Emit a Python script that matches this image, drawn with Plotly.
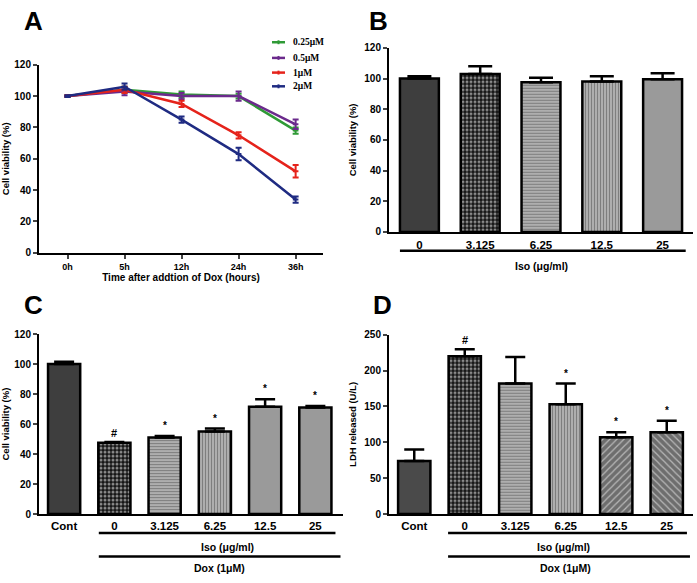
import plotly.graph_objects as go

# ---------------- data ----------------
time_labels = ["0h", "5h", "12h", "24h", "36h"]
conc_labels = ["0.25μM", "0.5μM", "1μM", "2μM"]
via_025 = [100, 104, 101, 100, 78]
err_025 = [0.5, 2, 2, 1.5, 2]
via_05 = [100, 103, 100, 100, 82]
err_05 = [0.5, 2.5, 2, 3, 3]
via_1 = [100, 104, 95, 75, 52]
err_1 = [0.5, 2, 2, 2, 4]
via_2 = [100, 106, 85, 63, 34]
err_2 = [0.5, 2, 2, 4, 2]

iso_b = ["0", "3.125", "6.25", "12.5", "25"]
via_b = [100, 103, 97.5, 98, 99.5]
err_b = [1.5, 5, 3, 3.5, 4]

groups_cd = ["Cont", "0", "3.125", "6.25", "12.5", "25"]
via_c = [100, 47.5, 51, 55, 71.5, 71]
err_c = [1.5, 0.5, 1, 2, 5, 1]
sig_c = ["", "#", "*", "*", "*", "*"]
ldh_d = [74, 220, 182, 153, 107, 114]
err_d = [16, 10, 37, 29, 7, 16]
sig_d = ["", "#", "", "*", "*", "*"]

line_colors = ["#2f9a36", "#6b2a8c", "#e5231b", "#1f2b82"]
series_a = [(via_025, err_025), (via_05, err_05), (via_1, err_1), (via_2, err_2)]

W, H = 697, 583
FONT = "Liberation Sans, Arial, sans-serif"
SERIF = "Liberation Serif, Times New Roman, serif"


def px_x(p):
    return p / W


def px_y(p):
    return 1 - p / H


fig = go.Figure()

# ---------------- panel A ----------------
for name, (v, e), c in zip(conc_labels, series_a, line_colors):
    fig.add_trace(go.Scatter(
        x=time_labels, y=v, name=name, mode="lines+markers", showlegend=False,
        line=dict(color=c, width=2.5),
        marker=dict(color=c, size=4, symbol="line-ew-open", line=dict(width=2, color=c)),
        error_y=dict(type="data", array=e, visible=True, color=c, thickness=2, width=3),
        xaxis="x", yaxis="y"))

# bar styles (fill colour + overlay pattern)
solid_dark = dict(color="#3e3e3e", shape="", fg="#3e3e3e", size=4, sol=0.3)
solid_dark_d = dict(color="#4a4a4a", shape="", fg="#4a4a4a", size=4, sol=0.3)
dots = dict(color="#151515", shape=".", fg="#ffffff", size=4, sol=0.45)
hlines = dict(color="#b8b8b8", shape="-", fg="#505050", size=3, sol=0.45)
vlines = dict(color="#b8b8b8", shape="|", fg="#505050", size=3, sol=0.45)
solid_gray = dict(color="#9a9a9a", shape="", fg="#9a9a9a", size=4, sol=0.3)
diag1 = dict(color="#6e6e6e", shape="/", fg="#a8a8a8", size=5, sol=0.25)
diag2 = dict(color="#6e6e6e", shape="\\", fg="#a8a8a8", size=5, sol=0.25)


def bar_trace(cats, vals, errs, styles, ax, ay, capw):
    return go.Bar(
        x=cats, y=vals, width=0.64, showlegend=False,
        marker=dict(
            color=[s["color"] for s in styles],
            line=dict(color="black", width=2.5),
            pattern=dict(
                shape=[s["shape"] for s in styles],
                fgcolor=[s["fg"] for s in styles],
                size=[s["size"] for s in styles],
                solidity=[s["sol"] for s in styles],
                fillmode="overlay")),
        error_y=dict(type="data", array=errs, arrayminus=[0] * len(errs),
                     symmetric=False, color="black", thickness=2.5, width=capw),
        xaxis=ax, yaxis=ay)


fig.add_trace(bar_trace(iso_b, via_b, err_b,
                        [solid_dark, dots, hlines, vlines, solid_gray], "x2", "y2", 12))
fig.add_trace(bar_trace(groups_cd, via_c, err_c,
                        [solid_dark, dots, hlines, vlines, solid_gray, solid_gray], "x3", "y3", 10))
fig.add_trace(bar_trace(groups_cd, ldh_d, err_d,
                        [solid_dark_d, dots, hlines, vlines, diag1, diag2], "x4", "y4", 10))

# ---------------- axes ----------------
ax_common = dict(showline=True, linewidth=2, linecolor="black", showgrid=False,
                 zeroline=False, tickfont=dict(size=10, family=FONT, color="black", weight="bold"))

fig.update_layout(
    width=W, height=H, margin=dict(l=0, r=0, t=0, b=0),
    plot_bgcolor="white", paper_bgcolor="white",
    font=dict(family=FONT, color="black", weight="bold"),
    showlegend=False,
    xaxis=dict(ax_common, domain=[px_x(39), px_x(323)], anchor="y", range=[-0.5, 4.48],
               ticks="outside", ticklen=4, tickwidth=2, tickfont=dict(size=9),
               title=dict(text="Time after addtion of Dox (hours)", font=dict(size=10), standoff=1)),
    yaxis=dict(ax_common, domain=[px_y(252), px_y(60)], anchor="x", range=[0, 120],
               tickvals=[0, 20, 40, 60, 80, 100, 120], ticks="outside", ticklen=4, tickwidth=2,
               title=dict(text="Cell viability (%)", font=dict(size=9.5), standoff=6)),
    xaxis2=dict(ax_common, domain=[px_x(389), px_x(693)], anchor="y2", range=[-0.5, 4.5],
                ticks="", tickfont=dict(size=11.5), ticklabelstandoff=1),
    yaxis2=dict(ax_common, domain=[px_y(230.7), px_y(42.7)], anchor="x2", range=[0, 120],
                tickvals=[0, 20, 40, 60, 80, 100, 120], ticks="outside", ticklen=4, tickwidth=2,
                title=dict(text="Cell viability (%)", font=dict(size=9.5), standoff=6)),
    xaxis3=dict(ax_common, domain=[px_x(39), px_x(343)], anchor="y3", range=[-0.5, 5.55],
                ticks="", tickfont=dict(size=11.5)),
    yaxis3=dict(ax_common, domain=[px_y(518.7), px_y(335)], anchor="x3", range=[0, 120],
                tickvals=[0, 20, 40, 60, 80, 100, 120], ticks="outside", ticklen=4, tickwidth=2,
                title=dict(text="Cell viability (%)", font=dict(size=9.5), standoff=6)),
    xaxis4=dict(ax_common, domain=[px_x(389), px_x(693)], anchor="y4", range=[-0.5, 5.52],
                ticks="", tickfont=dict(size=11.5)),
    yaxis4=dict(ax_common, domain=[px_y(518.7), px_y(335.7)], anchor="x4", range=[0, 250],
                tickvals=[0, 50, 100, 150, 200, 250], ticks="outside", ticklen=4, tickwidth=2,
                title=dict(text="LDH released (U/L)", font=dict(size=9.5), standoff=6)),
)

# ---------------- legend of panel A (compact, as in the original) ----------------
legend_rows = [37, 53, 68, 82]
for name, c, ry in zip(conc_labels, line_colors, legend_rows):
    fig.add_shape(type="line", xref="paper", yref="paper", x0=px_x(272), x1=px_x(285),
                  y0=px_y(ry), y1=px_y(ry), line=dict(color=c, width=2.5))
    fig.add_shape(type="line", xref="paper", yref="paper", x0=px_x(278.5), x1=px_x(278.5),
                  y0=px_y(ry - 2), y1=px_y(ry + 2), line=dict(color=c, width=2))
    fig.add_annotation(text=name, x=px_x(291), y=px_y(ry), xref="paper", yref="paper",
                       xanchor="left", yanchor="middle", showarrow=False,
                       font=dict(size=9.5, family=SERIF, weight="bold", color="black"))

# ---------------- panel labels ----------------
for lab, x, y in [("A", 33, 15), ("B", 378, 15), ("C", 33, 305), ("D", 383, 305)]:
    fig.add_annotation(text=lab, x=px_x(x), y=px_y(y), xref="paper", yref="paper",
                       xanchor="center", yanchor="middle",
                       showarrow=False, font=dict(size=26, family=FONT, weight="bold"))

# ---------------- significance marks ----------------
for vals, errs, sigs, ax, ay in [(via_c, err_c, sig_c, "x3", "y3"),
                                 (ldh_d, err_d, sig_d, "x4", "y4")]:
    for i, (v, e, s) in enumerate(zip(vals, errs, sigs)):
        if s:
            fig.add_annotation(text=s, x=i, y=v + e, xref=ax, yref=ay, showarrow=False,
                               xanchor="center", yanchor="bottom",
                               yshift=1 if s == "#" else 3,
                               font=dict(size=11 if s == "#" else 10, family=FONT, weight="bold"))


# ---------------- group underlines and labels ----------------
def hline(ax, x0, x1, ypx):
    fig.add_shape(type="line", xref=ax, yref="paper", x0=x0, x1=x1,
                  y0=px_y(ypx), y1=px_y(ypx), line=dict(color="black", width=2.5))


def label(ax, text, x, ypx, size=10.5):
    fig.add_annotation(text=text, x=x, y=px_y(ypx), xref=ax, yref="paper", showarrow=False,
                       xanchor="center", yanchor="middle",
                       font=dict(size=size, family=FONT, weight="bold"))


hline("x2", -0.32, 4.38, 250)
label("x2", "Iso (μg/ml)", 2.0, 265)

hline("x3", 0.69, 5.4, 538)
label("x3", "Iso (μg/ml)", 3.25, 552)
hline("x3", 0.69, 5.5, 562)
label("x3", "Dox (1μM)", 3.1, 574)

hline("x4", 0.67, 5.4, 538)
label("x4", "Iso (μg/ml)", 2.95, 552)
hline("x4", 0.67, 5.46, 562)
label("x4", "Dox (1μM)", 3.0, 574)

fig.write_html("out.html", config={"displayModeBar": False},
               post_script="document.body.style.margin='0';")
